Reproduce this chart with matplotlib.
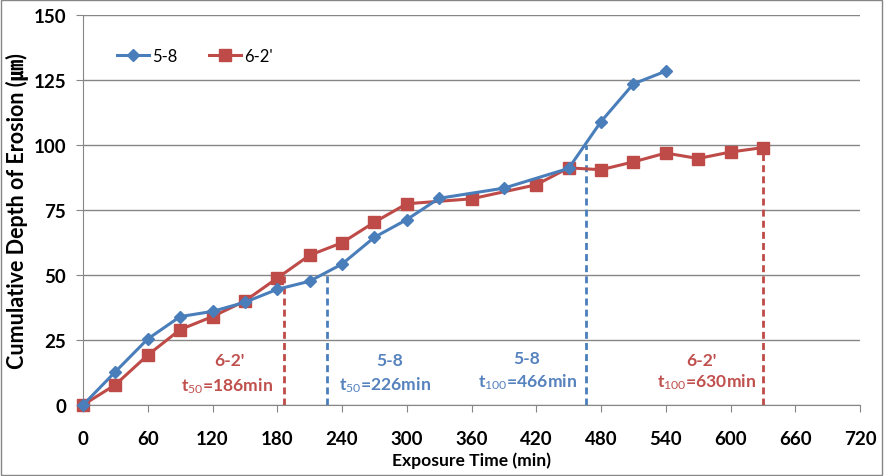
import matplotlib
matplotlib.use("Agg")
import matplotlib.pyplot as plt
from matplotlib.patches import Rectangle

plt.rcParams['font.family'] = ['Lato', 'Noto Sans CJK KR', 'DejaVu Sans']
plt.rcParams['mathtext.fontset'] = 'custom'
plt.rcParams['mathtext.rm'] = 'Lato'
plt.rcParams['mathtext.it'] = 'Lato'
plt.rcParams['mathtext.bf'] = 'Lato:bold'

# series 5-8
t_58 = [0, 30, 60, 90, 120, 150, 180, 210, 240, 270, 300, 330, 390, 450, 480, 510, 540]
d_58 = [0, 12.8, 25.4, 34, 36, 39.5, 44.5, 47.6, 54.2, 64.5, 71.3, 79.5, 83.4, 91, 109, 123.5, 128.4]

# series 6-2'
t_62 = [0, 30, 60, 90, 120, 150, 180, 210, 240, 270, 300, 360, 420, 450, 480, 510, 540, 570, 600, 630]
d_62 = [0, 7.8, 19.2, 29, 34, 40, 48.8, 57.6, 62.4, 70.3, 77.4, 79.3, 84.7, 91.2, 90.5, 93.5, 96.9, 94.8, 97.3, 99]

# marker times (t50 / t100)
t50 = {'5-8': 226, "6-2'": 186}
t100 = {'5-8': 466, "6-2'": 630}

xticks = list(range(0, 721, 60))
yticks = [0, 25, 50, 75, 100, 125, 150]

blue = '#4A7EBB'
red = '#BE4B48'
blue_txt = '#5682BD'
red_txt = '#C0504D'

fig = plt.figure(figsize=(8.84, 4.77), dpi=100)
ax = fig.add_axes([83/884, 71/477, 777/884, 390/477])

ax.plot(t_58, d_58, '-D', color=blue, lw=2.2, ms=6, label='5-8', clip_on=False, zorder=4)
ax.plot(t_62, d_62, '-s', color=red, lw=2.2, ms=9, label="6-2'", clip_on=False, zorder=3)

# dashed indicator lines
ax.vlines(t50["6-2'"], 0, 50, colors=red, linestyles=(0, (2.5, 1.5)), lw=2, zorder=2)
ax.vlines(t50['5-8'], 0, 51, colors=blue, linestyles=(0, (2.5, 1.5)), lw=2, zorder=2)
ax.vlines(t100['5-8'], 0, 100, colors=blue, linestyles=(0, (2.5, 1.5)), lw=2, zorder=2)
ax.vlines(t100["6-2'"], 0, 99, colors=red, linestyles=(0, (2.5, 1.5)), lw=2, zorder=2)

kw = dict(ha='center', va='center', fontsize=12.6, fontweight='bold')
ax.text(136, 17.3, "6-2'", color=red_txt, **kw)
ax.text(133, 7.6, r"t$_{50}$=186min", color=red_txt, **kw)
ax.text(284, 17.3, "5-8", color=blue_txt, **kw)
ax.text(280, 8.0, r"t$_{50}$=226min", color=blue_txt, **kw)
ax.text(411, 17.9, "5-8", color=blue_txt, **kw)
ax.text(412, 9.2, r"t$_{100}$=466min", color=blue_txt, **kw)
ax.text(573, 17.3, "6-2'", color=red_txt, **kw)
ax.text(578, 9.2, r"t$_{100}$=630min", color=red_txt, **kw)

ax.set_xlim(0, 720)
ax.set_ylim(0, 150)
ax.set_xticks(xticks)
ax.set_yticks(yticks)
ax.tick_params(axis='both', direction='out', length=5, color='#868686', labelsize=13.5)
ax.tick_params(axis='x', pad=13)
ax.tick_params(axis='y', pad=7)
for lab in ax.get_xticklabels() + ax.get_yticklabels():
    lab.set_fontweight('bold')
ax.yaxis.grid(True, color='#868686', lw=1)
ax.set_axisbelow(True)
for s in ('top', 'right'):
    ax.spines[s].set_visible(False)
for s in ('left', 'bottom'):
    ax.spines[s].set_color('#868686')

ax.set_xlabel('Exposure Time (min)', fontsize=12.6, fontweight='bold', labelpad=3)
ax.set_ylabel('Cumulative Depth of Erosion (\u339b)', fontsize=15.5, fontweight='bold', labelpad=4)

ax.legend(loc='upper left', bbox_to_anchor=(0.025, 0.955), ncol=2, frameon=False,
          fontsize=12, handlelength=1.9, columnspacing=1.9, handletextpad=0.2)

fig.patches.append(Rectangle((0.001, 0.002), 0.997, 0.996, transform=fig.transFigure,
                             fill=False, edgecolor='#868686', lw=1))

fig.savefig('out.png', dpi=100)
